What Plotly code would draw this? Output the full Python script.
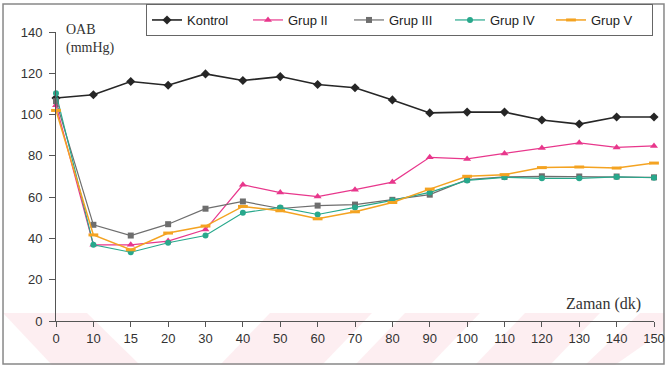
import plotly.graph_objects as go

times = ["0", "10", "15", "20", "30", "40", "50", "60", "70", "80", "90", "100", "110", "120", "130", "140", "150"]
kontrol = [108, 109.6, 116, 114.2, 119.7, 116.5, 118.4, 114.6, 113, 107.1, 100.8, 101.2, 101.2, 97.4, 95.4, 98.8, 98.8]
grup2 = [104.5, 36.9, 36.9, 38.7, 44.3, 66, 62.2, 60.3, 63.6, 67.3, 79.3, 78.5, 81.2, 83.8, 86.3, 84.1, 84.8]
grup3 = [106.5, 46.6, 41.4, 46.9, 54.4, 57.9, 54.5, 55.9, 56.4, 58.7, 61.2, 68.5, 69.8, 70.1, 70, 70, 69.6]
grup4 = [110.3, 36.9, 33.3, 37.9, 41.4, 52.4, 55, 51.6, 55, 58.4, 62.3, 68.1, 69.6, 69.1, 69.1, 69.8, 69.4]
grup5 = [102, 41.7, 34.5, 42.6, 46, 55.5, 53.4, 49.5, 52.9, 57.4, 63.9, 70.1, 70.9, 74.3, 74.6, 74.1, 76.5]

yticks = [0, 20, 40, 60, 80, 100, 120, 140]

xpos = list(range(len(times)))

fig = go.Figure()

series = [
    ("Kontrol", kontrol, "#262626", "diamond", 7, 1.6),
    ("Grup II", grup2, "#e8378c", "triangle-up", 7, 1.2),
    ("Grup III", grup3, "#6e6e6e", "square", 6, 1.2),
    ("Grup IV", grup4, "#28a88c", "circle", 6, 1.2),
    ("Grup V", grup5, "#f4a321", "line-ew", 7, 1.5),
]
for name, vals, col, sym, size, lw in series:
    marker = dict(symbol=sym, size=size, color=col)
    if sym == "line-ew":
        marker = dict(symbol=sym, size=size, color=col, line=dict(color=col, width=3))
    fig.add_trace(go.Scatter(
        x=xpos, y=vals, name=name, mode="lines+markers",
        line=dict(color=col, width=lw), marker=marker, cliponaxis=False,
    ))

# faint pink scan watermark in the bottom band (pixel polygons -> paper coords)
def px_to_paper(px, py):
    return ((px - 56) / 598.0, (321 - py) / 289.0)

stripes = [
    [(3, 313), (87, 313), (140, 365), (52, 365)],
    [(270, 313), (372, 313), (322, 365), (220, 365)],
    [(405, 313), (480, 313), (430, 365), (355, 365)],
    [(525, 313), (600, 313), (550, 365), (475, 365)],
    [(640, 313), (665, 313), (665, 330), (615, 365), (585, 365)],
]
shapes = []
for poly in stripes:
    pts = [px_to_paper(a, b) for a, b in poly]
    path = "M " + " L ".join(f"{x:.4f},{y:.4f}" for x, y in pts) + " Z"
    shapes.append(dict(type="path", xref="paper", yref="paper", path=path,
                       fillcolor="rgba(240,150,170,0.16)", line=dict(width=0), layer="below"))

shapes.append(dict(type="rect", xref="paper", yref="paper",
                   x0=-0.0886, x1=1.0167, y0=-0.1488, y1=1.0969,
                   line=dict(color="#888888", width=1.5), layer="below"))

fig.update_layout(
    width=668, height=368,
    margin=dict(l=56, r=14, t=32, b=47, autoexpand=False),
    paper_bgcolor="white", plot_bgcolor="rgba(0,0,0,0)",
    font=dict(family="Liberation Sans, Arial", size=13, color="#333333"),
    showlegend=True,
    legend=dict(
        orientation="h",
        x=(146 - 56) / 598, y=1 + (32 - 4) / 289, xanchor="left", yanchor="top",
        bordercolor="#666666", borderwidth=1, bgcolor="white",
        font=dict(size=13, color="#222222"),
        entrywidth=56, itemwidth=30, tracegroupgap=0,
    ),
    xaxis=dict(
        range=[0, 16], tickmode="array", tickvals=xpos, ticktext=times,
        showgrid=False, zeroline=False, showline=True, linecolor="#555555", linewidth=1,
        ticks="outside", ticklen=5, tickcolor="#555555",
        tickfont=dict(size=13, color="#333333"),
    ),
    yaxis=dict(
        range=[0, 140], tickmode="array", tickvals=yticks,
        showgrid=False, zeroline=False, showline=True, linecolor="#555555", linewidth=1,
        ticks="outside", ticklen=6, tickcolor="#555555", ticklabelstandoff=4,
        tickfont=dict(size=13, color="#333333"),
    ),
    shapes=shapes,
    annotations=[
        dict(text="OAB<br>(mmHg)", xref="paper", yref="paper", x=0.013, y=1.04,
             xanchor="left", yanchor="top", showarrow=False, align="left",
             font=dict(family="Liberation Serif, Times New Roman", size=14, color="#333333")),
        dict(text="Zaman (dk)", xref="paper", yref="paper", x=0.982, y=0.02,
             xanchor="right", yanchor="bottom", showarrow=False,
             font=dict(family="Liberation Serif, Times New Roman", size=16, color="#333333")),
    ],
)

fig.write_html("out.html")
